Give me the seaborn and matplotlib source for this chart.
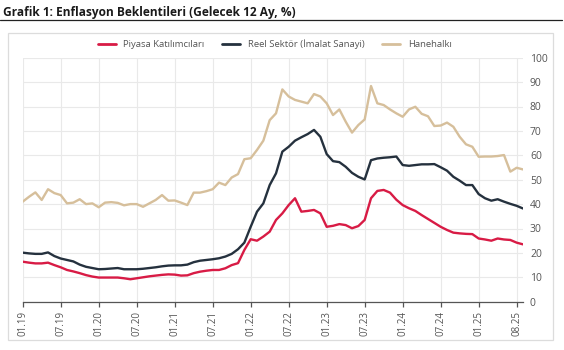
import matplotlib
matplotlib.use("Agg")
import matplotlib.pyplot as plt
from matplotlib.patches import Rectangle
from matplotlib.lines import Line2D
import seaborn as sns
import pandas as pd

# Monthly 12-month-ahead inflation expectations (%)
piyasa = [16.4, 16.0, 15.7, 15.7, 16.0, 15.0, 14.1, 13.0, 12.4, 11.7,
          10.9, 10.3, 9.9, 9.9, 9.9, 9.9, 9.6, 9.2, 9.6, 10.0,
          10.4, 10.7, 11.0, 11.2, 11.1, 10.7, 10.8, 11.7, 12.3, 12.7,
          13.0, 13.0, 13.7, 15.0, 15.8, 21.2, 25.6, 25.0, 26.7, 28.7,
          33.5, 36.2, 39.6, 42.4, 36.9, 37.2, 37.6, 36.2, 30.7, 31.1,
          31.8, 31.4, 30.1, 31.0, 33.5, 42.4, 45.4, 45.8, 44.7, 41.8,
          39.6, 38.3, 37.2, 35.5, 33.9, 32.3, 30.7, 29.4, 28.3, 28.0,
          27.8, 27.7, 25.9, 25.5, 25.0, 25.9, 25.5, 25.3, 24.2, 23.5]
reel_sektor = [20.1, 19.8, 19.6, 19.6, 20.2, 18.7, 17.7, 17.1, 16.5, 15.2,
               14.3, 13.8, 13.3, 13.4, 13.6, 13.8, 13.3, 13.3, 13.3, 13.5,
               13.8, 14.1, 14.5, 14.8, 14.9, 14.9, 15.2, 16.2, 16.8, 17.1,
               17.4, 17.8, 18.5, 19.6, 21.5, 24.2, 30.7, 36.9, 40.3, 47.8,
               52.6, 61.5, 63.5, 66.0, 67.4, 68.7, 70.4, 67.6, 60.5, 57.6,
               57.2, 55.3, 52.8, 51.2, 50.1, 58.0, 58.7, 59.0, 59.2, 59.5,
               56.0, 55.7, 56.0, 56.3, 56.3, 56.4, 55.1, 53.7, 51.2, 49.6,
               47.8, 47.8, 44.1, 42.4, 41.4, 42.0, 41.0, 40.1, 39.3, 38.2]
hanehalki = [41.0, 43.0, 44.8, 41.7, 46.1, 44.5, 43.7, 40.3, 40.6, 42.0,
             40.0, 40.3, 38.7, 40.6, 40.8, 40.5, 39.5, 40.0, 40.0, 38.9,
             40.3, 41.7, 43.7, 41.4, 41.5, 40.6, 39.6, 44.7, 44.7, 45.3,
             46.1, 48.8, 47.8, 50.9, 52.3, 58.4, 58.8, 62.2, 66.0, 74.4,
             77.2, 87.0, 84.1, 82.7, 82.0, 81.3, 85.1, 84.1, 81.3, 76.5,
             78.8, 73.8, 69.3, 72.4, 74.7, 88.4, 81.3, 80.6, 78.8, 77.2,
             75.8, 78.8, 79.9, 77.0, 76.0, 72.0, 72.2, 73.4, 71.7, 67.6,
             64.5, 63.5, 59.4, 59.5, 59.5, 59.7, 60.1, 53.3, 54.9, 54.2]

tick_labels = ["01.19", "07.19", "01.20", "07.20", "01.21", "07.21", "01.22",
               "07.22", "01.23", "07.23", "01.24", "07.24", "01.25", "08.25"]

series_names = ["Piyasa Katılımcıları", "Reel Sektör (İmalat Sanayi)", "Hanehalkı"]
series_colors = ["#d81b45", "#25313e", "#d6bf9b"]

n = len(piyasa)
df = pd.DataFrame({
    "ay": list(range(n)) * 3,
    "deger": piyasa + reel_sektor + hanehalki,
    "seri": [series_names[0]] * n + [series_names[1]] * n + [series_names[2]] * n,
})

sns.set_theme(style="white")
plt.rcParams["font.family"] = ["Open Sans", "DejaVu Sans"]

fig = plt.figure(figsize=(5.64, 3.5), dpi=100)
ax = fig.add_axes([22.7 / 564, 1 - 301.7 / 350, (523 - 22.7) / 564, (301.7 - 57.7) / 350])

sns.lineplot(data=df, x="ay", y="deger", hue="seri", hue_order=series_names,
             palette=series_colors, linewidth=1.7, ax=ax, legend=False, zorder=3)

ax.set_xlim(0, n - 1)
ax.set_ylim(0, 100)
ax.set_xlabel("")
ax.set_ylabel("")

# grid
ax.set_yticks(range(0, 101, 10))
ax.set_xticks(range(0, 6 * len(tick_labels), 6))
ax.set_xticklabels(tick_labels, rotation=90)
ax.grid(True, color="#e9e9e9", linewidth=0.8, zorder=0)
ax.set_axisbelow(True)

for side in ["top", "right", "left"]:
    ax.spines[side].set_visible(False)
ax.spines["bottom"].set_color("#555555")
ax.spines["bottom"].set_linewidth(0.9)

ax.yaxis.tick_right()
ax.tick_params(axis="y", length=0, pad=5, labelsize=7.5, labelcolor="#555555")
ax.tick_params(axis="x", bottom=True, length=3.5, width=0.9, color="#555555",
               pad=3, labelsize=7, labelcolor="#555555")

# legend
handles = [Line2D([0], [0], color=c, linewidth=2) for c in series_colors]
fig.legend(handles, series_names, loc="center", bbox_to_anchor=(0.487, 1 - 44 / 350),
           ncol=3, frameon=False, fontsize=6.8, handlelength=1.9, handletextpad=0.8,
           columnspacing=1.9, labelcolor="#555555")

# panel frame
fig.patches.append(Rectangle((8 / 564, 1 - 340 / 350), (553 - 8) / 564, (340 - 33) / 350,
                             transform=fig.transFigure, fill=False,
                             edgecolor="#dcdcdc", linewidth=0.9, zorder=0))

# title and rule
fig.text(3 / 564, 1 - 12.5 / 350, "Grafik 1: Enflasyon Beklentileri (Gelecek 12 Ay, %)",
         fontsize=8.6, fontweight="bold", color="#1a1a1a", va="center", ha="left")
fig.add_artist(Line2D([0, 562 / 564], [1 - 19.5 / 350, 1 - 19.5 / 350],
                      transform=fig.transFigure, color="#222222", linewidth=0.9))

fig.savefig("out.png", dpi=100)
